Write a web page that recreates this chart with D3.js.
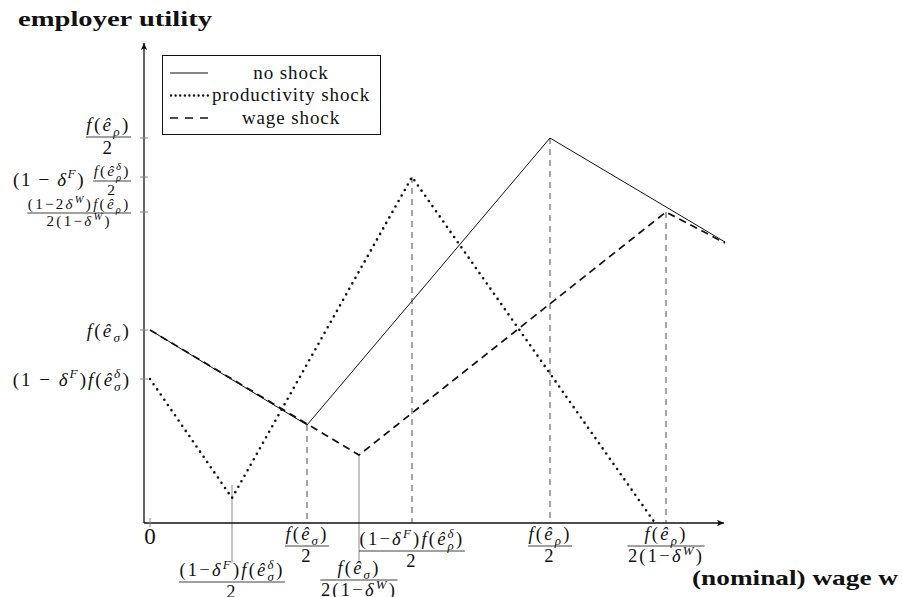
<!DOCTYPE html>
<html>
<head>
<meta charset="utf-8">
<script src="https://cdn.jsdelivr.net/npm/d3@7"></script>
<style>
  body { margin: 0; background: #fff; }
  text { font-family: "Liberation Serif", "DejaVu Serif", serif; fill: #111; }
</style>
</head>
<body>
<div id="chart"></div>
<script>
// utility curves, (wage, utility) in chart units
const noShock   = [[0, 1.93], [1.57, 0.98], [4.00, 3.85], [5.75, 2.81]];
const prodShock = [[0, 1.44], [0.82, 0.25], [2.62, 3.46], [5.05, 0]];
const wageShock = [[0, 1.93], [2.09, 0.68], [5.16, 3.11], [5.75, 2.80]];

const seriesNames = ["no shock", "productivity shock", "wage shock"];

// y tick values
const yTickValues = [3.85, 3.46, 3.11, 1.93, 1.44];
// x guide values (kinks) and the curve value they start from
const xGuideValues = [0.82, 1.57, 2.09, 2.62, 4.00, 5.16];
const guideY = [0.25, 0.98, 0.68, 3.46, 3.85, 3.11];

const width = 903, height = 597;

const svg = d3.select("#chart").append("svg")
    .attr("width", width)
    .attr("height", height);

const x = d3.scaleLinear().domain([0, 5.8]).range([150, 730]);
const y = d3.scaleLinear().domain([0, 4.8]).range([523, 43]);

const line = d3.line().x(d => x(d[0])).y(d => y(d[1]));

// ---- math text helpers ----
function parseMath(src) {
    const runs = [];
    let i = 0;
    while (i < src.length) {
        const c = src[i];
        if (c === "^" || c === "_") {
            let t;
            i++;
            if (src[i] === "{") {
                const j = src.indexOf("}", i);
                t = src.slice(i + 1, j);
                i = j + 1;
            } else {
                t = src[i];
                i++;
            }
            runs.push({t: t, lvl: c === "^" ? 1 : -1});
        } else {
            let j = i;
            while (j < src.length && src[j] !== "^" && src[j] !== "_") j++;
            runs.push({t: src.slice(i, j), lvl: 0});
            i = j;
        }
    }
    return runs;
}

const letterRe = /[A-Za-zα-ωê]/;

function mathText(sel, src, size, ls) {
    if (ls === undefined) ls = size * 0.12;
    let cur = 0, prevSup = 0;
    parseMath(src).forEach(run => {
        const fs = run.lvl ? size * 0.7 : size;
        const target = run.lvl === 1 ? -size * 0.4 : run.lvl === -1 ? size * 0.27 : 0;
        const segs = run.t.match(/([A-Za-zα-ωê]+|[^A-Za-zα-ωê]+)/g);
        let w = 0;
        segs.forEach((s, k) => {
            const ts = sel.append("tspan").text(s)
                .style("font-size", fs + "px")
                .style("letter-spacing", ls + "px")
                .style("font-style", letterRe.test(s) ? "italic" : "normal");
            if (k === 0) {
                ts.attr("dy", target - cur);
                cur = target;
                if (run.lvl === -1 && prevSup) ts.attr("dx", -prevSup);
            }
            w += ts.node().getComputedTextLength();
        });
        prevSup = run.lvl === 1 ? w : 0;
    });
}

// fraction centred on cx, bar at ly
function frac(g, cx, ly, num, den, size, ls) {
    const n = g.append("text").attr("x", cx).attr("y", ly - size * 0.3).attr("text-anchor", "middle");
    mathText(n, num, size, ls);
    const d = g.append("text").attr("x", cx).attr("y", ly + size * 0.88).attr("text-anchor", "middle");
    mathText(d, den, size, ls);
    const w = Math.max(n.node().getBBox().width, d.node().getBBox().width) + 1;
    g.append("line")
        .attr("x1", cx - w / 2).attr("x2", cx + w / 2)
        .attr("y1", ly).attr("y2", ly)
        .attr("stroke", "#111").attr("stroke-width", 0.8);
    return {w: w, top: ly - size * 1.15};
}

// ---- guides (drawn first, under curves) ----
const guides = svg.append("g");
[1, 3, 4, 5].forEach(i => {
    guides.append("line")
        .attr("x1", x(xGuideValues[i])).attr("x2", x(xGuideValues[i]))
        .attr("y1", y(guideY[i])).attr("y2", y(0))
        .attr("stroke", "#6a6a6a").attr("stroke-width", 1.2)
        .attr("stroke-dasharray", "6 5");
});

// ---- axes ----
svg.append("defs").append("marker")
    .attr("id", "arrow").attr("viewBox", "-8 -4 9 8")
    .attr("markerWidth", 9).attr("markerHeight", 8)
    .attr("refX", 0).attr("refY", 0)
    .attr("orient", "auto").attr("markerUnits", "userSpaceOnUse")
    .append("path").attr("d", "M0,0 L-7,-3.2 L-5.5,0 L-7,3.2 Z").attr("fill", "#111");

svg.append("line")
    .attr("x1", x(-0.06)).attr("x2", x(-0.06))
    .attr("y1", y(0)).attr("y2", y(4.8))
    .attr("stroke", "#111").attr("stroke-width", 1.3)
    .attr("marker-end", "url(#arrow)");
svg.append("line")
    .attr("x1", x(-0.06)).attr("x2", x(5.74))
    .attr("y1", y(0)).attr("y2", y(0))
    .attr("stroke", "#111").attr("stroke-width", 1.3)
    .attr("marker-end", "url(#arrow)");

// y ticks
yTickValues.forEach(v => {
    svg.append("line")
        .attr("x1", x(-0.1)).attr("x2", x(-0.02))
        .attr("y1", y(v)).attr("y2", y(v))
        .attr("stroke", "#888").attr("stroke-width", 1);
});
// x tick at 0
svg.append("line")
    .attr("x1", x(0)).attr("x2", x(0))
    .attr("y1", y(0) - 5).attr("y2", y(0) + 4)
    .attr("stroke", "#888").attr("stroke-width", 1);

// ---- curves ----
svg.append("path").datum(noShock).attr("d", line)
    .attr("fill", "none").attr("stroke", "#111").attr("stroke-width", 1);
svg.append("path").datum(wageShock).attr("d", line)
    .attr("fill", "none").attr("stroke", "#111").attr("stroke-width", 1.7)
    .attr("stroke-dasharray", "7.5 5");
svg.append("path").datum(prodShock).attr("d", line)
    .attr("fill", "none").attr("stroke", "#111").attr("stroke-width", 2.6)
    .attr("stroke-linecap", "round").attr("stroke-dasharray", "0 6.3");

// ---- y labels ----
const yl = svg.append("g");
const labRight = x(-0.06) - 13;
{
    const g = yl.append("g");
    const f = frac(g, 0, y(3.85) - 1, "f(ê_ρ)", "2", 19);
    g.attr("transform", `translate(${labRight - f.w / 2},0)`);
}
{
    const g = yl.append("g");
    const f = frac(g, 0, y(3.46) + 4, "f(ê^δ_ρ)", "2", 15.5, 2);
    g.attr("transform", `translate(${labRight - f.w / 2},0)`);
    const t = yl.append("text").attr("x", labRight - f.w - 8).attr("y", y(3.46) + 9)
        .attr("text-anchor", "end");
    mathText(t, "(1 − δ^F)", 19, 1.6);
}
{
    const g = yl.append("g");
    const f = frac(g, 0, y(3.11) + 1, "(1−2δ^W)f(ê_ρ)", "2(1−δ^W)", 15, 2.3);
    g.attr("transform", `translate(${labRight - f.w / 2},0)`);
}
{
    const t = yl.append("text").attr("x", labRight).attr("y", y(1.93) + 7).attr("text-anchor", "end");
    mathText(t, "f(ê_σ)", 19);
}
{
    const t = yl.append("text").attr("x", labRight).attr("y", y(1.44) + 7).attr("text-anchor", "end");
    mathText(t, "(1 − δ^F)f(ê^δ_σ)", 19, 2);
}

// ---- x labels ----
const xl = svg.append("g");
xl.append("text").attr("x", x(0)).attr("y", y(0) + 21).attr("text-anchor", "middle")
    .style("font-size", "23px").text("0");

const xLabels = [
    {num: "(1−δ^F)f(ê^δ_σ)", den: "2", off: 59, pin: true},
    {num: "f(ê_σ)", den: "2", off: 23},
    {num: "f(ê_σ)", den: "2(1−δ^W)", off: 57, pin: true},
    {num: "(1−δ^F)f(ê^δ_ρ)", den: "2", off: 28},
    {num: "f(ê_ρ)", den: "2", off: 23},
    {num: "f(ê_ρ)", den: "2(1−δ^W)", off: 23}
];
xLabels.forEach((d, i) => {
    const f = frac(xl, x(xGuideValues[i]), y(0) + d.off, d.num, d.den, 18.5);
    if (d.pin) {
        guides.append("line")
            .attr("x1", x(xGuideValues[i])).attr("x2", x(xGuideValues[i]))
            .attr("y1", y(guideY[i]) - (i === 0 ? 13 : 0)).attr("y2", f.top + 2)
            .attr("stroke", "#8a8a8a").attr("stroke-width", 1);
    }
});

// ---- axis titles ----
svg.append("text").attr("x", 18).attr("y", 26)
    .style("font-size", "22px").style("font-weight", "bold")
    .attr("textLength", 194).attr("lengthAdjust", "spacingAndGlyphs")
    .text("employer utility");
svg.append("text").attr("x", 692).attr("y", 585)
    .style("font-size", "22px").style("font-weight", "bold")
    .attr("textLength", 206).attr("lengthAdjust", "spacingAndGlyphs")
    .text("(nominal) wage w");

// ---- legend ----
const legend = svg.append("g");
legend.append("rect")
    .attr("x", 162.5).attr("y", 55.5).attr("width", 218).attr("height", 79)
    .attr("fill", "#fff").attr("stroke", "#111").attr("stroke-width", 1);
const sampleStyles = [
    {w: 1, dash: null, cap: "butt"},
    {w: 2.4, dash: "0 4.6", cap: "round"},
    {w: 1.7, dash: "8 7", cap: "butt"}
];
seriesNames.forEach((name, i) => {
    const ly = 73 + i * 22.5;
    const s = sampleStyles[i];
    legend.append("line")
        .attr("x1", 170 + (i === 1 ? 1 : 0)).attr("x2", 208)
        .attr("y1", ly).attr("y2", ly)
        .attr("stroke", "#111").attr("stroke-width", s.w)
        .attr("stroke-linecap", s.cap)
        .attr("stroke-dasharray", s.dash);
    legend.append("text").attr("x", 291).attr("y", ly + 5.5)
        .attr("text-anchor", "middle").style("font-size", "19px")
        .style("letter-spacing", "0.9px")
        .text(name);
});
</script>
</body>
</html>
